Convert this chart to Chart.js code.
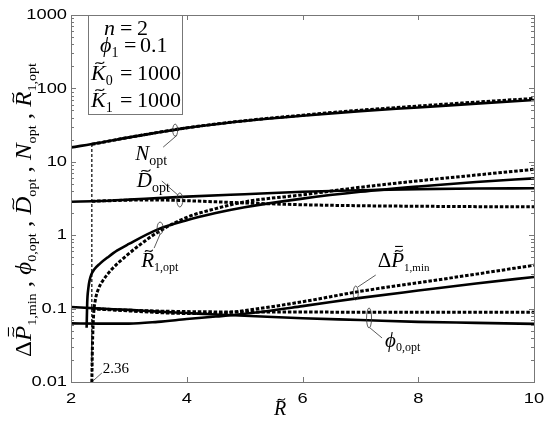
<!doctype html>
<html>
<head>
<meta charset="utf-8">
<title>optimum vs R</title>
<script src="https://cdn.jsdelivr.net/npm/chart.js@4.4.1/dist/chart.umd.min.js"></script>
<style>
  body { margin: 0; background: #fff; }
</style>
</head>
<body>
<canvas id="myChart" width="550" height="423"></canvas>
<script>
// ---- data ----
const xTicks = [2, 4, 6, 8, 10];
const yTicks = [0.01, 0.1, 1, 10, 100, 1000];

const R_N = [2, 2.5, 3, 3.5, 4, 4.5, 5, 6, 7, 8, 9, 10];
const N_solid = [15.7, 18.2, 21.5, 25, 29, 32.5, 36, 42.5, 49, 55, 62, 69.5];
const R_Nd = [2.36, 3, 4, 5, 6, 7, 8, 9, 10];
const N_dash = [17.3, 21.5, 29, 36.3, 43.2, 50.5, 57.5, 65, 73];

const R_D = [2, 2.5, 3, 3.5, 4, 5, 6, 7, 8, 9, 10];
const D_solid = [2.86, 2.92, 3.05, 3.2, 3.35, 3.62, 3.9, 4.1, 4.25, 4.33, 4.36];
const R_Dd = [2.36, 3, 3.5, 4, 5, 6, 7, 8, 9, 10];
const D_dash = [2.9, 3.0, 3.02, 2.95, 2.75, 2.6, 2.52, 2.48, 2.45, 2.44];

const R_R1 = [2.27, 2.28, 2.3, 2.32, 2.35, 2.4, 2.5, 2.65, 2.8, 3, 3.5, 4, 4.5, 5, 6, 7, 8, 9, 10];
const R1_solid = [0.055, 0.12, 0.19, 0.24, 0.29, 0.34, 0.41, 0.51, 0.62, 0.76, 1.2, 1.6, 2.0, 2.4, 3.15, 3.9, 4.6, 5.3, 5.95];
const R_R1d = [2.36, 2.37, 2.39, 2.42, 2.48, 2.55, 2.7, 2.9, 3.2, 3.5, 4, 4.5, 5, 6, 7, 8, 9, 10];
const R1_dash = [0.01, 0.03, 0.08, 0.13, 0.19, 0.24, 0.34, 0.48, 0.75, 1.1, 1.75, 2.3, 2.85, 3.55, 4.5, 5.5, 6.6, 7.9];

const R_P = [2, 2.5, 3, 3.5, 4, 4.5, 5, 6, 7, 8, 9, 10];
const P_solid = [0.063, 0.0625, 0.0625, 0.066, 0.072, 0.078, 0.085, 0.108, 0.14, 0.176, 0.22, 0.27];
const R_Pd = [2.36, 3, 4, 4.5, 5, 6, 7, 8, 9, 10];
const P_dash = [0.1, 0.093, 0.086, 0.086, 0.094, 0.124, 0.172, 0.225, 0.295, 0.39];

const PHI_solid = [0.105, 0.1, 0.096, 0.091, 0.087, 0.083, 0.08, 0.074, 0.07, 0.066, 0.064, 0.062];
const R_PHd = [2.36, 3, 4, 5, 6, 7, 8, 9, 10];
const PHI_dash = [0.1, 0.095, 0.091, 0.09, 0.09, 0.089, 0.089, 0.089, 0.089];

const R_mark = [2.36, 2.36];
const mark_vals = [0.01, 17];

// ---- helpers ----
function pts(xs, ys) { return xs.map((x, i) => ({x: x, y: ys[i]})); }
function line(xs, ys, dashed) {
  return {
    data: pts(xs, ys),
    borderColor: '#000',
    borderWidth: dashed ? 3 : 2.6,
    borderDash: dashed ? [3.5, 1.8] : [],
    pointRadius: 0,
    fill: false,
    cubicInterpolationMode: 'monotone'
  };
}

const SERIF = '"Liberation Serif", "DejaVu Serif", serif';

function tilde(ctx, cx, ty, w) {
  ctx.save();
  ctx.lineWidth = 1.1;
  ctx.beginPath();
  ctx.moveTo(cx - w / 2, ty + 1);
  ctx.bezierCurveTo(cx - w / 4, ty - 2.5, cx + w / 4, ty + 3.5, cx + w / 2, ty - 1);
  ctx.stroke();
  ctx.restore();
}

// parts: {t, it, sub, tilde, bar}
function mathText(ctx, x, y, parts, size, subSize, draw) {
  let cx = x;
  for (const p of parts) {
    ctx.font = (p.it ? 'italic ' : '') + size + 'px ' + SERIF;
    const w = ctx.measureText(p.t).width;
    if (draw) {
      ctx.fillText(p.t, cx, y);
      if (p.tilde) tilde(ctx, cx + w * 0.6, y - size * 0.78, w * 0.6);
      if (p.bar) {
        ctx.save(); ctx.lineWidth = 1.1;
        ctx.beginPath();
        ctx.moveTo(cx + w * 0.3, y - size * 0.98);
        ctx.lineTo(cx + w * 0.9, y - size * 0.98);
        ctx.stroke(); ctx.restore();
      }
    }
    cx += w;
    if (p.sub) {
      ctx.font = subSize + 'px ' + SERIF;
      if (draw) ctx.fillText(p.sub, cx, y + subSize * 0.35);
      cx += ctx.measureText(p.sub).width;
    }
  }
  return cx - x;
}

function sansLabel(ctx, txt, x, y, align) {
  ctx.save();
  ctx.font = '15px "Liberation Sans", Arial, sans-serif';
  ctx.textBaseline = 'middle';
  const w = ctx.measureText(txt).width * 1.22;
  let x0 = x;
  if (align === 'right') x0 = x - w;
  if (align === 'center') x0 = x - w / 2;
  ctx.translate(x0, y);
  ctx.scale(1.22, 1);
  ctx.textAlign = 'left';
  ctx.fillText(txt, 0, 0);
  ctx.restore();
}

// callouts: anchor in data units, offsets in px
const callouts = [
  {R: 3.8, v: 27, rx: 2.5, ry: 6, l: [[2, 5], [-12, 17]], tx: -40, ty: 30,
    parts: [{t: 'N', it: true, sub: 'opt'}], size: 21, sub: 14},
  {R: 3.88, v: 3.02, rx: 3, ry: 7, l: [[-2, -5], [-18, -19]], tx: -43, ty: -13,
    parts: [{t: 'D', it: true, tilde: true, sub: 'opt'}], size: 21, sub: 14},
  {R: 3.54, v: 1.25, rx: 3, ry: 6, l: [[0, 6], [-6, 20]], tx: -19, ty: 39,
    parts: [{t: 'R', it: true, tilde: true, sub: '1,opt'}], size: 21, sub: 12},
  {R: 6.92, v: 0.163, rx: 2.5, ry: 7, l: [[2, -6], [20, -18]], tx: 22, ty: -26,
    parts: [{t: '\u0394'}, {t: 'P', it: true, tilde: true, bar: true, sub: '1,min'}], size: 21, sub: 11},
  {R: 7.15, v: 0.0745, rx: 2.5, ry: 10, l: [[1, 10], [13, 20]], tx: 16, ty: 29,
    parts: [{t: '\u03d5', it: true, sub: '0,opt'}], size: 21, sub: 12}
];

const decor = {
  id: 'decor',
  afterDraw(chart) {
    const ctx = chart.ctx;
    const a = chart.chartArea;
    const xs = chart.scales.x, ys = chart.scales.y;
    ctx.save();
    ctx.fillStyle = '#000';
    ctx.strokeStyle = '#000';

    // frame
    ctx.strokeStyle = '#777';
    ctx.lineWidth = 1;
    ctx.strokeRect(a.left + 0.5, a.top + 0.5, a.right - a.left, a.bottom - a.top);

    // inward ticks
    ctx.beginPath();
    xTicks.forEach(v => {
      const px = Math.round(xs.getPixelForValue(v)) + 0.5;
      ctx.moveTo(px, a.bottom); ctx.lineTo(px, a.bottom - 5);
      ctx.moveTo(px, a.top); ctx.lineTo(px, a.top + 5);
    });
    for (let e = -2; e < 3; e++) {
      for (let m = 1; m < 10; m++) {
        const v = m * Math.pow(10, e);
        const py = Math.round(ys.getPixelForValue(v)) + 0.5;
        const len = m === 1 ? 5 : 3;
        ctx.moveTo(a.left, py); ctx.lineTo(a.left + len, py);
        ctx.moveTo(a.right, py); ctx.lineTo(a.right - len, py);
      }
    }
    ctx.stroke();

    // tick labels
    ctx.fillStyle = '#000';
    xTicks.forEach(v => sansLabel(ctx, String(v), xs.getPixelForValue(v), a.bottom + 17, 'center'));
    yTicks.forEach(v => sansLabel(ctx, String(v), a.left - 4, ys.getPixelForValue(v), 'right'));

    ctx.strokeStyle = '#000';
    ctx.textBaseline = 'alphabetic';
    ctx.textAlign = 'left';

    // x title
    mathText(ctx, 274, 415, [{t: 'R', it: true, tilde: true}], 20, 12, true);

    // y title, rotated and fitted to its length
    const yParts = [
      {t: '\u0394'}, {t: 'P', it: true, tilde: true, bar: true, sub: '1,min'}, {t: ' , '},
      {t: '\u03d5', it: true, sub: '0,opt'}, {t: ' , '},
      {t: 'D', it: true, tilde: true, sub: 'opt'}, {t: ' , '},
      {t: 'N', it: true, sub: 'opt'}, {t: ' , '},
      {t: 'R', it: true, tilde: true, sub: '1,opt'}
    ];
    const tw = mathText(ctx, 0, 0, yParts, 23, 13, false);
    ctx.save();
    ctx.translate(31, 210);
    ctx.rotate(-Math.PI / 2);
    const k = 294 / tw;
    ctx.scale(k, 1);
    mathText(ctx, -tw / 2, 0, yParts, 23, 13, true);
    ctx.restore();

    // callouts
    ctx.lineWidth = 0.8;
    ctx.strokeStyle = '#333';
    callouts.forEach(c => {
      const cx = xs.getPixelForValue(c.R), cy = ys.getPixelForValue(c.v);
      ctx.beginPath();
      ctx.ellipse(cx, cy, c.rx, c.ry, 0, 0, Math.PI * 2);
      ctx.stroke();
      ctx.beginPath();
      ctx.moveTo(cx + c.l[0][0], cy + c.l[0][1]);
      ctx.lineTo(cx + c.l[1][0], cy + c.l[1][1]);
      ctx.stroke();
      ctx.strokeStyle = '#000';
      mathText(ctx, cx + c.tx, cy + c.ty, c.parts, c.size, c.sub, true);
      ctx.strokeStyle = '#333';
    });

    // 2.36 marker label
    const mx = xs.getPixelForValue(R_mark[0]), my = ys.getPixelForValue(mark_vals[0]);
    ctx.beginPath();
    ctx.moveTo(mx + 1, my - 1); ctx.lineTo(mx + 10, my - 9);
    ctx.stroke();
    ctx.font = '15px ' + SERIF;
    ctx.fillText('2.36', mx + 11, my - 9);

    // parameter box
    ctx.strokeStyle = '#777';
    ctx.lineWidth = 1;
    ctx.strokeRect(88.5, a.top + 0.5, 94, 99);
    ctx.strokeStyle = '#000';
    ctx.font = '22px ' + SERIF;
    mathText(ctx, 104, 35, [{t: 'n', it: true}], 22, 14, true);
    ctx.font = '22px ' + SERIF;
    ctx.fillText('=', 120, 35); ctx.fillText('2', 137, 35);
    mathText(ctx, 100, 52, [{t: '\u03d5', it: true, sub: '1'}], 22, 14, true);
    ctx.font = '22px ' + SERIF;
    ctx.fillText('=', 124, 52); ctx.fillText('0.1', 140, 52);
    mathText(ctx, 91, 80, [{t: 'K', it: true, tilde: true, sub: '0'}], 22, 14, true);
    ctx.font = '22px ' + SERIF;
    ctx.fillText('=', 120, 80); ctx.fillText('1000', 137, 80);
    mathText(ctx, 91, 107, [{t: 'K', it: true, tilde: true, sub: '1'}], 22, 14, true);
    ctx.font = '22px ' + SERIF;
    ctx.fillText('=', 120, 107); ctx.fillText('1000', 137, 107);

    ctx.restore();
  }
};

const markLine = line(R_mark, mark_vals, true);
markLine.borderWidth = 1.2;
markLine.borderDash = [3, 2];
markLine.cubicInterpolationMode = 'default';

new Chart(document.getElementById('myChart').getContext('2d'), {
  type: 'line',
  data: {
    datasets: [
      line(R_N, N_solid, false), line(R_Nd, N_dash, true),
      line(R_D, D_solid, false), line(R_Dd, D_dash, true),
      line(R_R1, R1_solid, false), line(R_R1d, R1_dash, true),
      line(R_P, P_solid, false), line(R_Pd, P_dash, true),
      line(R_P, PHI_solid, false), line(R_PHd, PHI_dash, true),
      markLine
    ]
  },
  options: {
    responsive: false,
    animation: false,
    devicePixelRatio: 1,
    layout: {padding: {top: 15, right: 16, left: 0, bottom: 0}},
    plugins: {legend: {display: false}, tooltip: {enabled: false}},
    scales: {
      x: {
        type: 'linear', min: 2, max: 10,
        grid: {display: false}, border: {display: false},
        ticks: {display: false},
        afterFit(s) { s.height = 41; }
      },
      y: {
        type: 'logarithmic', min: 0.01, max: 1000,
        grid: {display: false}, border: {display: false},
        ticks: {display: false},
        afterFit(s) { s.width = 71; }
      }
    }
  },
  plugins: [decor]
});
</script>
</body>
</html>
